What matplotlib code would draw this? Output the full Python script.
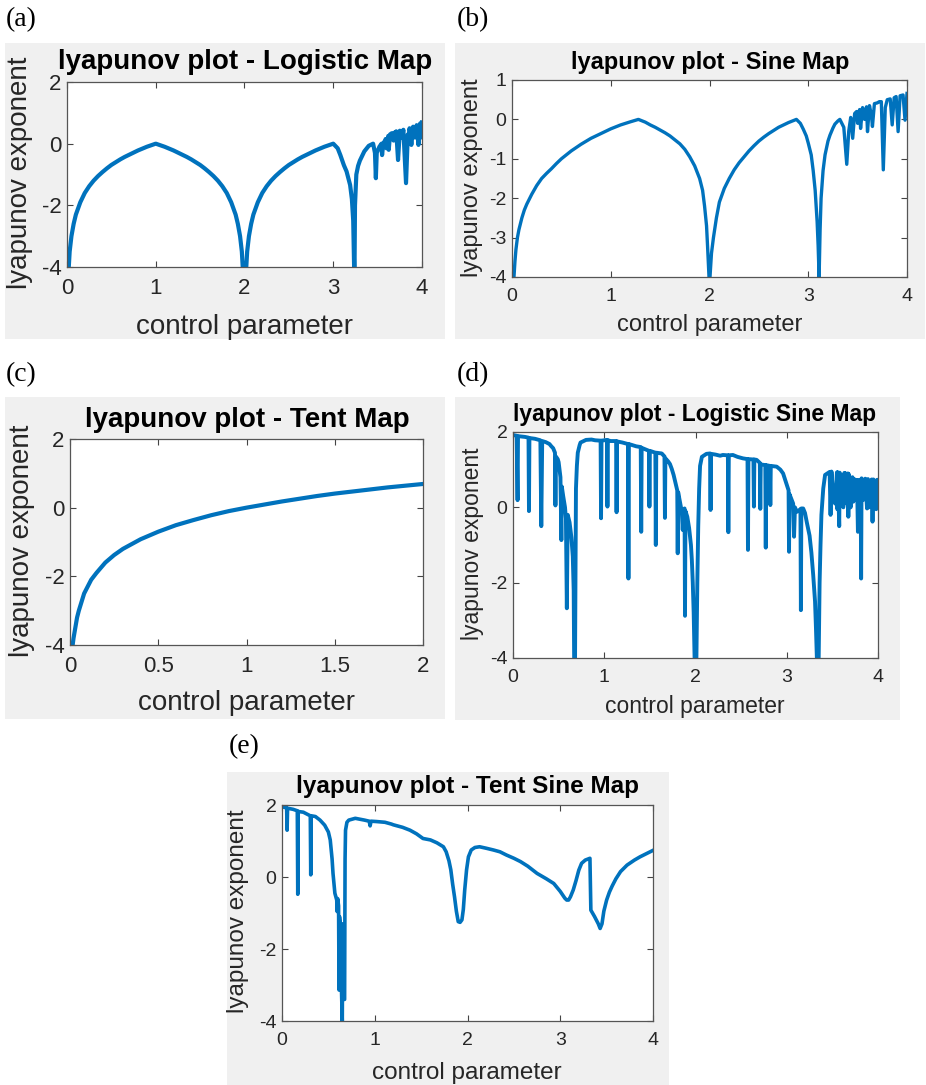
import matplotlib.pyplot as plt
from matplotlib.patches import Rectangle

plt.rcParams['font.family'] = ['Liberation Sans', 'DejaVu Sans']

W, H = 926, 1085
BLUE = '#0072BD'
GREY_BG = '#F0F0F0'
DARK = '#262626'

# ---- (a) logistic map ----
logistic_r = [0.02, 0.03, 0.05, 0.075, 0.1, 0.15, 0.2, 0.25, 0.3, 0.35, 0.4, 0.45, 0.5,
              0.55, 0.6, 0.65, 0.7, 0.75, 0.8, 0.85, 0.9, 0.95, 1.0,
              1.05, 1.1, 1.15, 1.2, 1.25, 1.3, 1.35, 1.4, 1.45, 1.5, 1.55, 1.6, 1.65,
              1.7, 1.75, 1.8, 1.85, 1.9, 1.925, 1.95, 1.97, 1.98,
              2.02, 2.03, 2.05, 2.075, 2.1, 2.15, 2.2, 2.25, 2.3, 2.35, 2.4, 2.45, 2.5,
              2.55, 2.6, 2.65, 2.7, 2.75, 2.8, 2.85, 2.9, 2.95, 3.0,
              3.05, 3.08, 3.12, 3.15, 3.19, 3.21, 3.225, 3.235, 3.24, 3.245, 3.26, 3.28,
              3.3, 3.35, 3.4, 3.449,
              3.47, 3.48, 3.49, 3.52, 3.544, 3.55, 3.56, 3.57, 3.585, 3.59, 3.60, 3.62,
              3.625, 3.64, 3.66, 3.67, 3.68, 3.69, 3.705, 3.71, 3.73, 3.75, 3.77, 3.775,
              3.79, 3.82, 3.84, 3.855, 3.86, 3.88, 3.90, 3.91, 3.92, 3.94, 3.96, 3.97,
              3.98, 3.99, 4.0]
logistic_le = [-4.0, -3.5, -3.0, -2.6, -2.3, -1.9, -1.6, -1.38, -1.2, -1.05, -0.92, -0.8, -0.69,
               -0.6, -0.51, -0.43, -0.36, -0.29, -0.22, -0.16, -0.1, -0.05, 0.0,
               -0.05, -0.1, -0.16, -0.22, -0.29, -0.36, -0.43, -0.51, -0.6, -0.69, -0.8, -0.92, -1.05,
               -1.2, -1.38, -1.6, -1.9, -2.3, -2.6, -3.0, -3.5, -4.0,
               -4.0, -3.5, -3.0, -2.6, -2.3, -1.9, -1.6, -1.38, -1.2, -1.05, -0.92, -0.8, -0.69,
               -0.6, -0.51, -0.43, -0.36, -0.29, -0.22, -0.16, -0.1, -0.05, 0.0,
               -0.15, -0.37, -0.7, -0.9, -1.34, -1.8, -2.5, -4.0, -4.0, -2.0, -1.0, -0.72,
               -0.55, -0.25, -0.07, 0.0,
               -0.3, -1.12, -0.3, -0.1, 0.0, -0.37, -0.1, 0.05, 0.0, 0.15, -0.15, 0.25,
               -0.2, 0.3, 0.34, 0.15, 0.1, 0.36, 0.2, 0.4, -0.53, 0.42, 0.2, 0.25,
               0.45, -1.28, 0.3, 0.3, 0.5, -0.04, 0.55, 0.3, 0.2, 0.6, -0.04, 0.35,
               0.66, 0.2, 0.69]

# ---- (b) sine map ----
sine_r = [0.02, 0.03, 0.04, 0.055, 0.07, 0.1, 0.125, 0.15, 0.2, 0.25, 0.3, 0.35, 0.4, 0.45,
          0.5, 0.6, 0.7, 0.8, 0.9, 1.0, 1.1, 1.2, 1.28,
          1.35, 1.4, 1.45, 1.5, 1.55, 1.6, 1.65, 1.7, 1.75, 1.8, 1.85, 1.9, 1.93, 1.95,
          1.97, 1.98, 1.995,
          2.005, 2.02, 2.04, 2.07, 2.1, 2.15, 2.2, 2.25, 2.3, 2.35, 2.4, 2.45, 2.5, 2.55,
          2.6, 2.65, 2.7, 2.75, 2.8, 2.84, 2.88,
          2.92, 2.95, 2.98, 3.0, 3.03, 3.05, 3.07, 3.09, 3.1, 3.11,
          3.12, 3.13, 3.15, 3.17, 3.2, 3.22, 3.25, 3.27, 3.3, 3.32,
          3.36, 3.39, 3.41, 3.43, 3.45, 3.47, 3.49, 3.50, 3.52, 3.53, 3.55, 3.57,
          3.59, 3.60, 3.62, 3.64, 3.65, 3.67, 3.70, 3.72, 3.74, 3.76, 3.78, 3.80,
          3.83, 3.85, 3.87, 3.89, 3.91, 3.93, 3.96, 3.98, 4.0]
sine_le = [-4.0, -3.6, -3.3, -3.0, -2.8, -2.5, -2.3, -2.15, -1.9, -1.68, -1.5, -1.37, -1.25, -1.12,
           -1.0, -0.8, -0.63, -0.48, -0.36, -0.24, -0.14, -0.06, 0.0,
           -0.07, -0.14, -0.2, -0.27, -0.34, -0.42, -0.52, -0.62, -0.76, -0.95, -1.18, -1.5, -1.8, -2.2,
           -2.7, -3.2, -4.0,
           -4.0, -3.4, -3.0, -2.5, -2.1, -1.75, -1.5, -1.28, -1.1, -0.95, -0.8, -0.67, -0.55, -0.45,
           -0.36, -0.28, -0.2, -0.14, -0.08, -0.04, 0.0,
           -0.1, -0.25, -0.42, -0.6, -0.9, -1.3, -1.8, -2.6, -3.2, -4.0,
           -2.8, -2.0, -1.3, -0.9, -0.55, -0.4, -0.22, -0.12, -0.04, 0.0,
           -0.2, -1.14, -0.3, 0.05, -0.48, 0.15, 0.2, -0.1, 0.25, -0.23, 0.3, 0.0,
           0.32, -0.31, 0.35, 0.1, -0.18, 0.4, 0.42, 0.45, 0.45, -1.28, 0.3, 0.5,
           0.52, -0.14, 0.55, 0.58, -0.31, 0.6, 0.62, -0.02, 0.66]

# ---- (c) tent map ----
tent_mu = [0.015, 0.02, 0.03, 0.04, 0.05, 0.065, 0.08, 0.1, 0.12, 0.15, 0.2, 0.25, 0.3,
           0.4, 0.5, 0.6, 0.7, 0.8, 0.9, 1.0, 1.1, 1.2, 1.3, 1.4, 1.5, 1.6, 1.7, 1.8, 1.9, 2.0]
tent_le = [-4.0, -3.8, -3.5, -3.2, -3.0, -2.75, -2.5, -2.3, -2.1, -1.9, -1.6, -1.38, -1.2,
           -0.92, -0.7, -0.51, -0.36, -0.22, -0.1, 0.0, 0.09, 0.18, 0.26, 0.34, 0.41, 0.47,
           0.53, 0.59, 0.64, 0.69]

# ---- (d) logistic sine map ----
lsm_r = [0.00, 0.04, 0.05, 0.055, 0.13, 0.17, 0.175, 0.18, 0.24, 0.30, 0.31, 0.32, 0.36,
         0.40, 0.42, 0.44, 0.46, 0.465, 0.47, 0.49, 0.50, 0.51, 0.52, 0.53, 0.535, 0.55,
         0.57, 0.58, 0.59, 0.60, 0.62, 0.64, 0.655, 0.665, 0.67, 0.68, 0.685, 0.69, 0.70,
         0.71, 0.73, 0.74, 0.80, 0.86, 0.90, 0.96, 0.965, 0.97,
         1.03, 1.035, 1.04, 1.07, 1.13, 1.135, 1.14, 1.20, 1.26, 1.265, 1.27, 1.35, 1.40,
         1.405, 1.41, 1.49, 1.495, 1.50, 1.56, 1.565, 1.57, 1.63, 1.66, 1.665, 1.67, 1.70,
         1.72, 1.74, 1.76, 1.78, 1.80, 1.805, 1.81, 1.84, 1.85, 1.86, 1.87, 1.88, 1.885,
         1.89, 1.91, 1.93, 1.95, 1.96, 1.97, 1.98, 1.99, 2.01, 2.02, 2.03, 2.04, 2.05,
         2.07, 2.12, 2.16, 2.165, 2.17, 2.22, 2.27, 2.30, 2.355, 2.36,
         2.365, 2.41, 2.46, 2.52, 2.57, 2.575, 2.58, 2.635, 2.64, 2.645, 2.67, 2.705, 2.71,
         2.715, 2.765, 2.77, 2.775, 2.815, 2.82, 2.825, 2.89, 2.93, 2.96, 3.00, 3.02,
         3.025, 3.03, 3.07, 3.08, 3.09, 3.11, 3.15, 3.155, 3.16, 3.18, 3.20, 3.22, 3.25,
         3.27, 3.29, 3.31, 3.32, 3.33, 3.35, 3.36, 3.37, 3.38,
         3.40, 3.42, 3.47, 3.48, 3.49, 3.51, 3.53, 3.55, 3.555, 3.56, 3.575, 3.58, 3.60,
         3.62, 3.63, 3.635, 3.64, 3.66, 3.67, 3.675, 3.68, 3.70, 3.72, 3.73, 3.74, 3.75,
         3.77, 3.78, 3.79, 3.81, 3.815, 3.82, 3.84, 3.86, 3.88, 3.89, 3.90, 3.92, 3.93,
         3.94, 3.95, 3.96, 3.98, 3.99, 4.00]
lsm_le = [1.92, 1.9, 0.19, 1.89, 1.87, 1.85, -0.1, 1.84, 1.82, 1.78, -0.5, 1.76, 1.73,
          1.68, 1.62, 1.57, 1.45, 0.05, 1.35, 1.28, 1.2, 1.0, 0.8, -0.87, 0.55, 0.3,
          0.0, -0.3, -2.68, -0.2, -0.4, -0.8, -1.3, -2.2, -4.0, -4.0, -1.5, 0.5, 1.1,
          1.45, 1.65, 1.72, 1.79, 1.8, 1.78, 1.77, -0.29, 1.77,
          1.79, 0.02, 1.78, 1.76, 1.76, -0.13, 1.75, 1.72, 1.68, -1.89, 1.68, 1.62, 1.6,
          -0.65, 1.58, 1.5, 0.02, 1.5, 1.45, -1.0, 1.45, 1.43, 1.35, -0.28, 1.3, 1.22,
          1.15, 1.02, 0.86, 0.65, 0.45, -1.22, 0.4, 0.0, -0.12, -0.6, -0.05, -0.03, -2.88,
          -0.1, -0.25, -0.55, -1.0, -1.4, -2.0, -2.8, -4.0, -4.0, -2.0, -0.5, 0.5, 1.1,
          1.34, 1.42, 1.43, -0.07, 1.42, 1.4, 1.37, 1.39, 1.38, -0.66,
          1.38, 1.39, 1.34, 1.3, 1.28, -1.13, 1.28, 1.27, 0.02, 1.27, 1.26, 1.18, -0.04,
          1.14, 1.12, -1.07, 1.12, 1.1, 0.06, 1.1, 1.08, 1.0, 0.9, 0.6, 0.45,
          -1.18, 0.35, 0.1, -0.78, 0.0, -0.12, -0.05, -2.73, -0.03, -0.03, -0.15, -0.4, -0.75,
          -1.2, -1.8, -2.5, -3.2, -4.0, -4.0, -2.0, -1.0, -0.2,
          0.5, 0.86, 0.94, -0.2, 0.95, 0.3, 0.1, 0.93, -0.05, 0.93, -0.5, 0.92, 0.2,
          0.0, 0.91, 0.1, 0.91, 0.3, 0.9, -0.25, 0.88, 0.0, 0.8, 0.15, 0.75, 0.2,
          0.73, -0.65, 0.72, 0.7, -1.89, 0.77, 0.2, 0.76, -0.03, 0.75, 0.0, 0.2, 0.74,
          -0.38, 0.74, 0.1, -0.05, 0.73, 0.73]

# ---- (e) tent sine map ----
tsm_r = [0.00, 0.05, 0.055, 0.06, 0.12, 0.165, 0.17, 0.175, 0.23, 0.305, 0.31, 0.315,
         0.36, 0.41, 0.46, 0.50, 0.52, 0.54, 0.55, 0.57, 0.59, 0.595, 0.60, 0.61, 0.615,
         0.62, 0.635, 0.64, 0.65, 0.655, 0.665, 0.675, 0.68, 0.685, 0.70, 0.72, 0.79, 0.89,
         0.94, 0.95, 0.96, 1.02, 1.11, 1.18, 1.20, 1.30, 1.38, 1.45, 1.52, 1.60, 1.67,
         1.74, 1.77, 1.80, 1.82, 1.84, 1.86, 1.88, 1.90, 1.92, 1.94, 1.955, 1.97, 1.99,
         2.01, 2.04, 2.08, 2.13, 2.20, 2.28, 2.35, 2.42, 2.50, 2.57, 2.65, 2.75, 2.85,
         2.93, 3.00, 3.05, 3.07, 3.09, 3.11, 3.14, 3.17, 3.20, 3.23, 3.27, 3.32, 3.33,
         3.37, 3.41, 3.43, 3.45, 3.47, 3.50, 3.53, 3.56, 3.60, 3.65, 3.72, 3.80, 3.86,
         3.93, 4.0]
tsm_le = [1.95, 1.92, 1.3, 1.91, 1.88, 1.84, -0.48, 1.82, 1.8, 1.7, 0.06, 1.7,
          1.68, 1.58, 1.44, 1.25, 1.03, 0.5, 0.1, -0.45, -0.64, -0.96, -0.6, -0.8, -3.14,
          -1.1, -1.5, -3.0, -4.0, -1.3, -3.4, -3.4, 0.5, 1.3, 1.52, 1.58, 1.63, 1.58,
          1.55, 1.42, 1.55, 1.54, 1.52, 1.47, 1.45, 1.38, 1.3, 1.2, 1.07, 1.03, 0.95,
          0.84, 0.7, 0.45, 0.2, -0.2, -0.55, -0.95, -1.24, -1.26, -1.19, -0.9, -0.36, 0.2,
          0.56, 0.75, 0.82, 0.84, 0.8, 0.75, 0.7, 0.61, 0.52, 0.43, 0.3, 0.1, -0.05,
          -0.18, -0.4, -0.59, -0.64, -0.64, -0.55, -0.36, -0.1, 0.19, 0.38, 0.47, 0.52, -0.92,
          -1.1, -1.3, -1.43, -1.3, -0.95, -0.64, -0.42, -0.25, -0.05, 0.15, 0.33, 0.47, 0.56,
          0.65, 0.74]


fig = plt.figure(figsize=(W / 100, H / 100), dpi=100)


def fx(px):
    return px / W


def fy(py):
    return 1 - py / H


def panel(letter, letter_pos, bg, box, title, title_pos, title_fs,
          ylab_pos, xlab_pos, lab_fs, tick_fs, xs, ys, xlim, xticks, ylim, yticks, lw):
    # grey figure background of each matlab window
    x0, y0, x1, y1 = bg
    fig.add_artist(Rectangle((fx(x0), fy(y1)), fx(x1 - x0), (y1 - y0) / H,
                             transform=fig.transFigure, facecolor=GREY_BG,
                             edgecolor='none', zorder=0))
    fig.text(fx(letter_pos[0]), fy(letter_pos[1]), letter, family='Liberation Serif',
             fontsize=20, ha='left', va='center')

    l, t, r, b = box
    ax = fig.add_axes([fx(l), fy(b), fx(r - l), (b - t) / H])
    ax.plot(xs, ys, color=BLUE, lw=lw, solid_joinstyle='round')
    ax.set_xlim(*xlim)
    ax.set_ylim(*ylim)
    ax.set_xticks(xticks)
    ax.set_xticklabels(['%g' % v for v in xticks])
    ax.set_yticks(yticks)
    ax.set_yticklabels(['%g' % v for v in yticks])
    ax.tick_params(direction='in', top=True, right=True, length=4, width=0.8,
                   colors='#444444', labelcolor=DARK, labelsize=tick_fs)
    ax.tick_params(axis='x', pad=8)
    ax.tick_params(axis='y', pad=4)
    for s in ax.spines.values():
        s.set_color('#555555')
        s.set_linewidth(0.9)

    fig.text(fx(title_pos[0]), fy(title_pos[1]), title, fontsize=title_fs,
             fontweight='bold', ha='center', va='center')
    fig.text(fx(ylab_pos[0]), fy(ylab_pos[1]), 'lyapunov exponent', fontsize=lab_fs,
             rotation=90, ha='center', va='center', color=DARK)
    fig.text(fx(xlab_pos[0]), fy(xlab_pos[1]), 'control parameter', fontsize=lab_fs,
             ha='center', va='center', color=DARK)
    return ax


panel('(a)', (6, 20), (5, 43, 445, 339), (67, 82, 422, 267),
      'lyapunov plot - Logistic Map', (245, 62), 20, (20, 173), (245, 327), 20, 16,
      logistic_r, logistic_le, (0, 4), [0, 1, 2, 3, 4], (-4, 2), [-4, -2, 0, 2], 3.0)

panel('(b)', (457, 20), (455, 43, 925, 339), (512, 80, 907, 277),
      'lyapunov plot - Sine Map', (710, 63), 17, (472, 178), (710, 325), 17, 14,
      sine_r, sine_le, (0, 4), [0, 1, 2, 3, 4], (-4, 1), [-4, -3, -2, -1, 0, 1], 2.4)

panel('(c)', (6, 375), (5, 397, 445, 719), (70, 439, 423, 645),
      'lyapunov plot - Tent Map', (247, 420), 20, (22, 541), (247, 703), 20, 16,
      tent_mu, tent_le, (0, 2), [0, 0.5, 1, 1.5, 2], (-4, 2), [-4, -2, 0, 2], 3.0)

panel('(d)', (457, 375), (455, 397, 900, 720), (513, 432, 878, 658),
      'lyapunov plot - Logistic Sine Map', (695, 414), 16.5, (473, 544), (695, 707), 16.5, 14,
      lsm_r, lsm_le, (0, 4), [0, 1, 2, 3, 4], (-4, 2), [-4, -2, 0, 2], 2.8)

panel('(e)', (229, 747), (227, 772, 669, 1085), (282, 805, 653, 1021),
      'lyapunov plot - Tent Sine Map', (467, 787), 17.5, (238, 911), (467, 1073), 17.5, 14,
      tsm_r, tsm_le, (0, 4), [0, 1, 2, 3, 4], (-4, 2), [-4, -2, 0, 2], 2.6)

fig.savefig('out.png', dpi=100)
